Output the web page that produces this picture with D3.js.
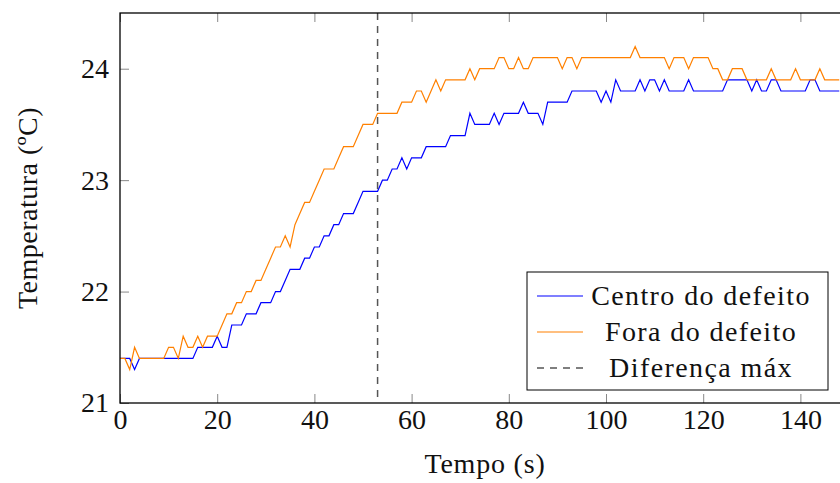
<!DOCTYPE html>
<html>
<head>
<meta charset="utf-8">
<script src="https://cdn.jsdelivr.net/npm/d3@7"></script>
<style>
body { margin: 0; background: #fff; overflow: hidden; }
svg text { font-family: "Liberation Serif", "Times New Roman", serif; fill: #111; }
</style>
</head>
<body>
<svg id="chart"></svg>
<script>
// tempo (s)
var tempo = [0,1,2,3,4,5,6,7,8,9,10,11,12,13,14,15,16,17,18,19,20,21,22,23,24,25,26,27,28,29,
    30,31,32,33,34,35,36,37,38,39,40,41,42,43,44,45,46,47,48,49,50,51,52,53,54,55,56,57,58,59,
    60,61,62,63,64,65,66,67,68,69,70,71,72,73,74,75,76,77,78,79,80,81,82,83,84,85,86,87,88,89,
    90,91,92,93,94,95,96,97,98,99,100,101,102,103,104,105,106,107,108,109,110,111,112,113,114,115,116,117,118,119,
    120,121,122,123,124,125,126,127,128,129,130,131,132,133,134,135,136,137,138,139,140,141,142,143,144,145,146,147,148];

// centro do defeito (azul)
var centro = [21.4,21.4,21.4,21.3,21.4,21.4,21.4,21.4,21.4,21.4,21.4,21.4,21.4,21.4,21.4,21.4,21.5,21.5,21.5,21.5,
    21.6,21.5,21.5,21.7,21.7,21.7,21.8,21.8,21.8,21.9,21.9,21.9,22.0,22.0,22.1,22.2,22.2,22.2,22.3,22.3,
    22.4,22.4,22.5,22.5,22.6,22.6,22.7,22.7,22.7,22.8,22.9,22.9,22.9,22.9,23.0,23.0,23.1,23.1,23.2,23.1,
    23.2,23.2,23.2,23.3,23.3,23.3,23.3,23.3,23.4,23.4,23.4,23.4,23.6,23.5,23.5,23.5,23.5,23.6,23.5,23.6,
    23.6,23.6,23.6,23.7,23.6,23.6,23.6,23.5,23.7,23.7,23.7,23.7,23.7,23.8,23.8,23.8,23.8,23.8,23.8,23.7,
    23.8,23.7,23.9,23.8,23.8,23.8,23.8,23.9,23.8,23.9,23.9,23.8,23.9,23.8,23.8,23.8,23.8,23.9,23.8,23.8,
    23.8,23.8,23.8,23.8,23.8,23.9,23.9,23.9,23.9,23.9,23.8,23.9,23.8,23.8,23.9,23.9,23.8,23.8,23.8,23.8,
    23.8,23.8,23.9,23.9,23.8,23.8,23.8,23.8,23.8];

// fora do defeito (laranja)
var fora = [21.4,21.4,21.3,21.5,21.4,21.4,21.4,21.4,21.4,21.4,21.5,21.5,21.4,21.6,21.5,21.5,21.6,21.5,21.6,21.6,
    21.6,21.7,21.8,21.8,21.9,21.9,22.0,22.0,22.1,22.1,22.2,22.3,22.4,22.4,22.5,22.4,22.6,22.7,22.8,22.8,
    22.9,23.0,23.1,23.1,23.1,23.2,23.3,23.3,23.3,23.4,23.5,23.5,23.5,23.6,23.6,23.6,23.6,23.6,23.7,23.7,
    23.7,23.8,23.8,23.7,23.8,23.9,23.8,23.9,23.9,23.9,23.9,23.9,24.0,23.9,24.0,24.0,24.0,24.0,24.1,24.1,
    24.0,24.0,24.1,24.0,24.0,24.1,24.1,24.1,24.1,24.1,24.1,24.0,24.1,24.1,24.0,24.1,24.1,24.1,24.1,24.1,
    24.1,24.1,24.1,24.1,24.1,24.1,24.2,24.1,24.1,24.1,24.1,24.1,24.1,24.0,24.1,24.1,24.1,24.0,24.1,24.1,
    24.1,24.1,24.0,24.0,23.9,23.9,24.0,24.0,24.0,23.9,23.9,23.9,23.9,23.9,24.0,23.9,23.9,23.9,23.9,24.0,
    23.9,23.9,23.9,23.9,24.0,23.9,23.9,23.9,23.9];

var difMax = 53;   // instante da diferença máxima
var xTicks = [0,20,40,60,80,100,120,140];
var yTicks = [21,22,23,24];
var legendLabels = ["Centro do defeito", "Fora do defeito", "Diferença máx"];
var colors = ["#0000ff", "#ff8000", "#555555"];

var margin = {top: 13, left: 120},
    width = 729,
    height = 390;

var svg = d3.select("svg#chart")
    .attr("width", 840)
    .attr("height", 483);

var g = svg.append("g")
    .attr("transform", "translate(" + margin.left + "," + margin.top + ")");

var x = d3.scaleLinear().domain([0, 150]).range([0, width]);
var y = d3.scaleLinear().domain([21, 24.5]).range([height, 0]);

// clip
g.append("clipPath").attr("id", "clip")
    .append("rect").attr("width", width).attr("height", height);

// axes (ticks pointing inward, like pgfplots)
var fontSize = 28;

function styleAxis(sel) {
    sel.select(".domain").remove();
    sel.selectAll(".tick line").attr("stroke", "#888").attr("stroke-width", 1);
    sel.selectAll("text").attr("font-family", "Liberation Serif").attr("font-size", fontSize).attr("fill", "#111");
}

g.append("g")
    .attr("transform", "translate(0," + height + ")")
    .call(d3.axisBottom(x).tickValues(xTicks).tickSize(-9).tickPadding(6))
    .call(styleAxis);

g.append("g")
    .call(d3.axisTop(x).tickValues(xTicks).tickSize(-9).tickFormat(""))
    .call(styleAxis);

g.append("g")
    .call(d3.axisLeft(y).tickValues(yTicks).tickSize(-9).tickPadding(11).tickFormat(d3.format("d")))
    .call(styleAxis);

g.append("g")
    .attr("transform", "translate(" + width + ",0)")
    .call(d3.axisRight(y).tickValues(yTicks).tickSize(-9).tickFormat(""))
    .call(styleAxis);

// lines
var line = function(vals) {
    return d3.line()
        .x(function(d, i) { return x(tempo[i]); })
        .y(function(d) { return y(d); })(vals);
};

var plot = g.append("g").attr("clip-path", "url(#clip)");

plot.append("path")
    .attr("d", line(centro))
    .attr("fill", "none")
    .attr("stroke", colors[0])
    .attr("stroke-width", 1.2);

plot.append("path")
    .attr("d", line(fora))
    .attr("fill", "none")
    .attr("stroke", colors[1])
    .attr("stroke-width", 1.2);

plot.append("line")
    .attr("x1", x(difMax)).attr("x2", x(difMax))
    .attr("y1", 0).attr("y2", height)
    .attr("stroke", colors[2])
    .attr("stroke-width", 1.5)
    .attr("stroke-dasharray", "7,6");

// frame
g.append("rect")
    .attr("width", width)
    .attr("height", height)
    .attr("fill", "none")
    .attr("stroke", "#000")
    .attr("stroke-width", 1.3);

// axis labels
svg.append("text")
    .attr("x", 485)
    .attr("y", 473)
    .attr("text-anchor", "middle")
    .attr("font-size", fontSize)
    .attr("letter-spacing", 0.8)
    .text("Tempo (s)");

svg.append("text")
    .attr("transform", "translate(37," + 208 + ") rotate(-90)")
    .attr("text-anchor", "middle")
    .attr("font-size", fontSize)
    .attr("letter-spacing", 0.5)
    .text("Temperatura (ºC)");

// legend
var legend = svg.append("g").attr("transform", "translate(527,272)");

legend.append("rect")
    .attr("width", 301)
    .attr("height", 118)
    .attr("fill", "#fff")
    .attr("stroke", "#000")
    .attr("stroke-width", 1);

legendLabels.forEach(function(lbl, i) {
    var ly = 24 + i * 36;
    legend.append("line")
        .attr("x1", 10).attr("x2", 56)
        .attr("y1", ly).attr("y2", ly)
        .attr("stroke", colors[i])
        .attr("stroke-width", i == 2 ? 1.5 : 1.2)
        .attr("stroke-dasharray", i == 2 ? "7,6" : null);
    legend.append("text")
        .attr("x", 174)
        .attr("y", ly)
        .attr("dy", "0.33em")
        .attr("text-anchor", "middle")
        .attr("font-size", fontSize)
        .attr("letter-spacing", 1.4)
        .text(lbl);
});
</script>
</body>
</html>
